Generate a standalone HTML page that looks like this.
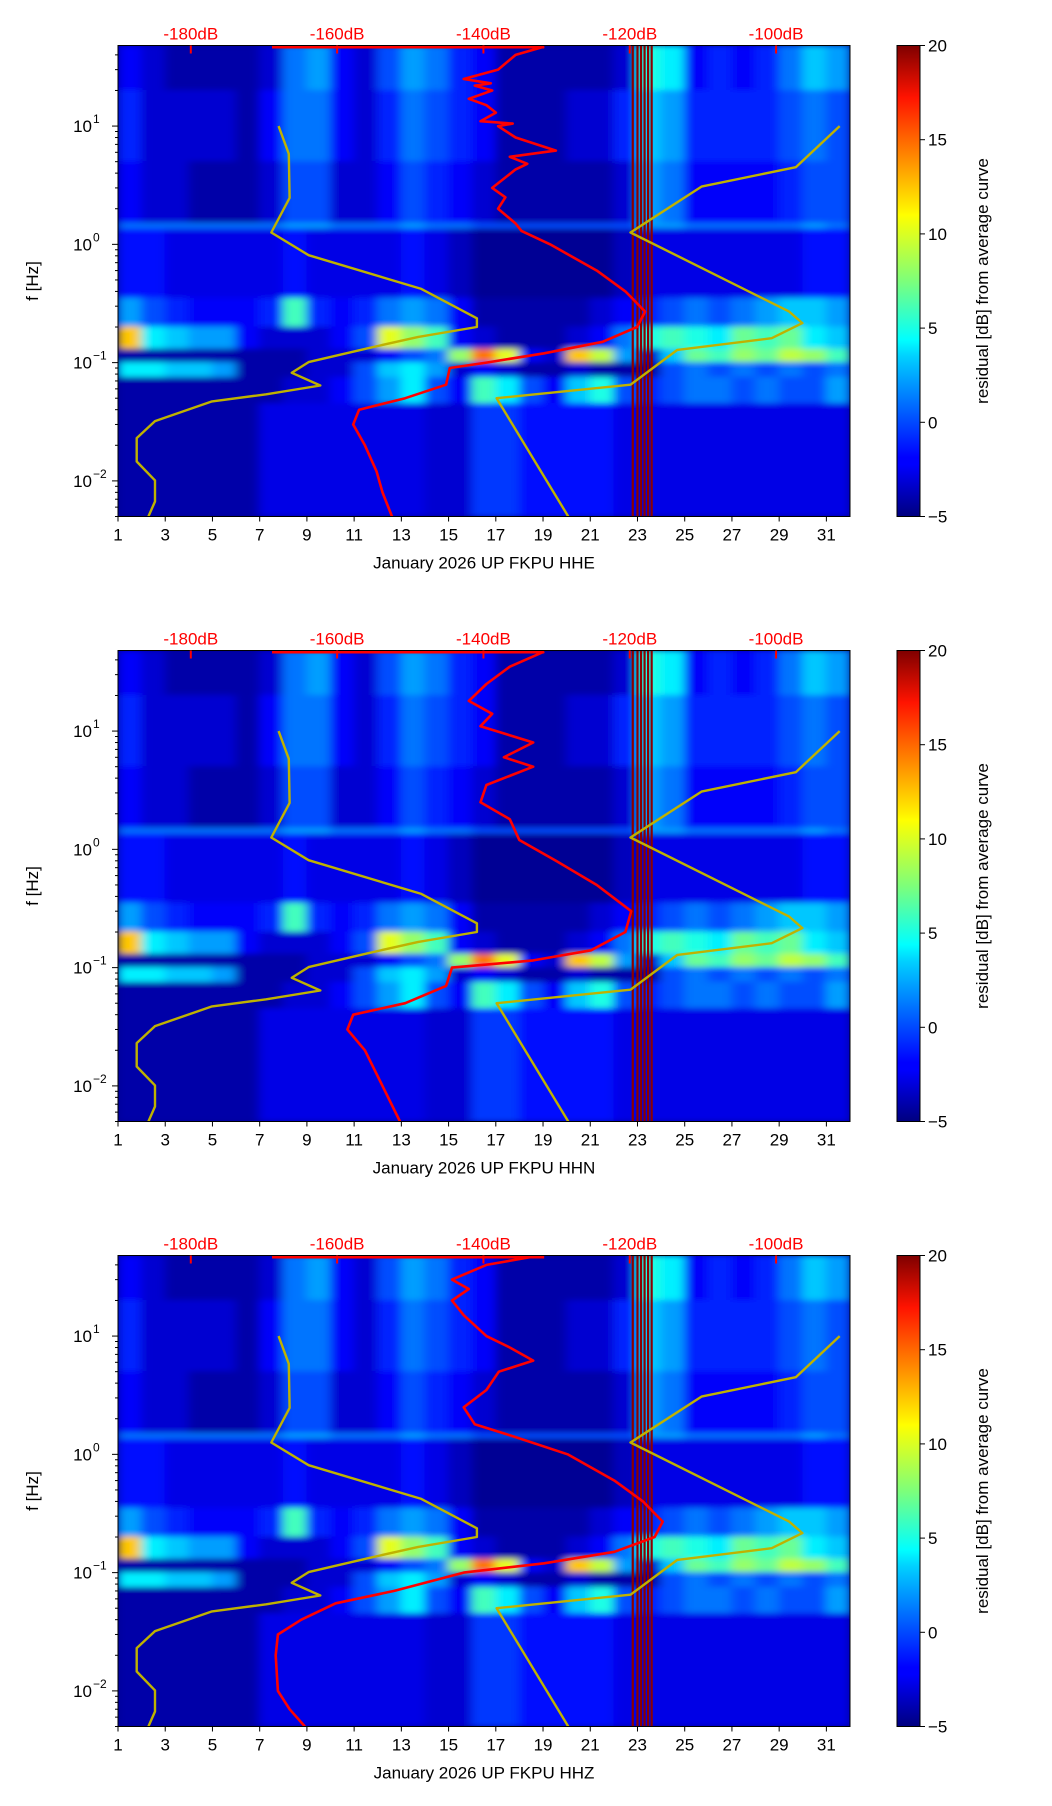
<!DOCTYPE html>
<html><head><meta charset="utf-8"><style>
html,body{margin:0;padding:0;background:#fff;}
svg{display:block;font-family:"Liberation Sans","DejaVu Sans",sans-serif;}
</style></head><body>
<svg id="fig" width="1052" height="1806" viewBox="0 0 1052 1806" xmlns="http://www.w3.org/2000/svg">
<defs>
<filter id="blur" x="-5%" y="-5%" width="110%" height="110%"><feGaussianBlur stdDeviation="5 3"/></filter>
<linearGradient id="jet" x1="0" y1="1" x2="0" y2="0">
<stop offset="0" stop-color="#00007f"/><stop offset="0.11" stop-color="#0000ff"/><stop offset="0.125" stop-color="#0000ff"/><stop offset="0.34" stop-color="#00d0ff"/><stop offset="0.375" stop-color="#00ffff"/><stop offset="0.5" stop-color="#7dff7a"/><stop offset="0.64" stop-color="#ffff00"/><stop offset="0.66" stop-color="#ffea00"/><stop offset="0.89" stop-color="#ff1300"/><stop offset="1" stop-color="#7f0000"/>
</linearGradient>
</defs>
</svg>
<script>
// ---- data ----
const days = [1,2,3,4,5,6,7,8,9,10,11,12,13,14,15,16,17,18,19,20,21,22,23,24,25,26,27,28,29,30,31];
const bandLo = [20, 5, 1.5, 1.35, 0.35, 0.2, 0.13, 0.1, 0.075, 0.045, 0.005];
const bandHi = [48, 20, 5, 1.5, 1.35, 0.35, 0.2, 0.13, 0.1, 0.075, 0.045];
const b0 = [-2,-3,-4,-4,-4,-4,-3,1,2,-2,-3,0,2,1,-1,-2,-4,-4,-4,-4,-4,-3,5,4,-2,-1,-2,-1,1,3,2];
const b1 = [-1,-3,-3,-3,-3,-4,-2,1,1,-2,-3,-1,1,0,-1,-2,-4,-4,-4,-3,-3,-1,3,2,-1,-1,-1,-1,0,1,0];
const b2 = [-2,-3,-3,-4,-4,-4,-3,0,0,-3,-3,-2,0,-1,-2,-3,-4,-4,-4,-4,-4,-3,2,1,-2,-2,-2,-2,-1,0,0];
const b3 = [1,1,1,1,1,1,1,2,2,1,1,1,2,1,1,0,0,0,0,0,0,0,2,2,1,1,1,1,1,2,1];
const b4 = [-1.5,-1.5,-2.5,-2.5,-2.5,-2.5,-2.5,-1.5,-2.5,-2.5,-2.5,-2.5,-1.5,-2.5,-3.5,-4.5,-4.5,-4.5,-4.5,-4.5,-4.5,-3.5,-2.5,-2.5,-2.5,-2.5,-2.5,-2.5,-2.5,-1.5,-1.5];
const b5 = [2,0,-1,-2,-2,-2,-1,6,-1,-2,-1,1,2,1,-2,-4,-4,-4,-4,-4,-3,-2,-1,0,1,0,1,2,3,3,2];
const b6 = [12,4,3,2,2,-2,-3,-3,-3,-2,0,10,8,6,-2,-3,-4,-4,-4,-3,-2,1,5,6,5,4,7,6,7,4,3];
const b7 = [-4,-4,-4,-4,-4,-4,-4,-4,-3,-3,-3,-2,0,1,8,14,10,-2,-3,12,9,2,-3,3,7,6,8,7,9,8,6];
const b8 = [4,4,3,3,2,-4,-4,-4,-3,-3,0,3,4,2,-3,-2,-3,-4,-4,-3,-4,-4,-4,0,1,0,1,0,1,0,1];
const b9 = [-4,-4,-4,-4,-4,-4,-4,-3,-3,-2,0,2,4,0,-2,6,4,0,-2,3,5,0,-1,0,1,1,0,1,0,0,2];
const b10 = [-4,-4,-4,-4,-4,-4,-2.5,-2.5,-2.5,-2.5,-2.5,-2.5,-2.5,-3,-3,-0.5,-0.5,-1.5,-1.5,-1.5,-1.5,-2.5,-2.5,-2.5,-2.5,-2.5,-2.5,-2.5,-2.5,-2.5,-2.5];
const bands = [b0,b1,b2,b3,b4,b5,b6,b7,b8,b9,b10];
const redLineDays = [22.8, 23.0, 23.15, 23.3, 23.45, 23.6];

const dbTicks = [-180,-160,-140,-120,-100];
const xTicks = [1,3,5,7,9,11,13,15,17,19,21,23,25,27,29,31];
const cbTicks = [-5,0,5,10,15,20];

const nlnmDb = [-168.0,-166.6,-166.5,-169.0,-163.9,-148.5,-140.9,-140.9,-148.9,-155.9,-163.9,-166.2,-162.3,-169.7,-177.1,-184.9,-187.4,-187.4,-184.9,-184.9,-185.8];
const nlnmF = [10,5.83,2.47,1.26,0.81,0.42,0.237,0.20,0.165,0.132,0.101,0.082,0.064,0.054,0.047,0.032,0.023,0.0146,0.0101,0.0067,0.005];
const nhnmDb = [-91.3,-97.3,-110.2,-119.9,-98.2,-96.4,-100.6,-113.5,-119.9,-138.2,-128.4];
const nhnmF = [10,4.49,3.08,1.26,0.27,0.216,0.161,0.128,0.065,0.05,0.005];

const red1Db = [-131.7,-135.6,-138,-142.7,-139,-141.2,-138.8,-142,-139.6,-138.3,-140.4,-136,-138,-135.6,-130.1,-136.4,-134,-135.6,-138.8,-137,-138,-135.6,-134.8,-130.9,-124.5,-120.6,-117.9,-119,-123.7,-131.7,-139.6,-144.6,-145.1,-150.7,-157,-157.8,-156.2,-154.6,-153.8,-152.5];
const red1F = [47,40,30,25,23,22,20,17,15,13,11,10.5,10,8,6.2,5.5,4.8,4.3,3,2.5,2,1.5,1.3,1,0.6,0.4,0.27,0.2,0.15,0.12,0.1,0.09,0.065,0.05,0.04,0.03,0.02,0.012,0.008,0.005];
const red2Db = [-131.7,-136.4,-139.6,-142,-138.8,-140.4,-133.2,-137.2,-133.2,-139.6,-140.4,-136.4,-135.1,-130.1,-124.5,-119.8,-120.6,-125.3,-133.2,-144.3,-145.1,-150.7,-157.8,-158.6,-156.2,-153.8,-151.4];
const red2F = [47,35,25,18,14,11,8,6,5,3.5,2.5,1.8,1.2,0.8,0.5,0.3,0.2,0.14,0.115,0.1,0.07,0.05,0.04,0.03,0.02,0.01,0.005];
const red3Db = [-133.2,-139.6,-144.3,-142,-144.3,-142.7,-139.6,-136.4,-133.2,-137.9,-139.6,-142.7,-141.2,-135.6,-128.5,-122.1,-118.2,-115.5,-116.6,-122.1,-131.7,-142.7,-152.2,-160.2,-164.9,-168.1,-168.4,-168.1,-166.5,-164.4];
const red3F = [47,40,30,25,20,15,10,8,6.2,5,3.5,2.5,1.8,1.4,1,0.6,0.4,0.27,0.2,0.15,0.12,0.1,0.07,0.055,0.04,0.03,0.02,0.01,0.007,0.005];
const redTopDb = [-168.9,-131.7];

const stations = ["HHE","HHN","HHZ"];
// ---- layout ----
const NS = "http://www.w3.org/2000/svg";
const svg = document.getElementById('fig');
const AX0 = 118, AX1 = 850, AH = 471, FMIN = 0.005, FMAX = 48, DMIN = 1, DMAX = 32;
const tops = [45.5, 650.5, 1255.5];
const CB0 = 897, CB1 = 920;
function xDay(d){ return AX0 + (d-DMIN)/(DMAX-DMIN)*(AX1-AX0); }
function xDb(db){ return 190.8 + (db+180)*7.316; }
function mk(tag, attrs, parent){ const e=document.createElementNS(NS,tag); for(const k in attrs) e.setAttribute(k,attrs[k]); parent.appendChild(e); return e; }
function jet(v){
  let t=(v+5)/25; t=Math.max(0,Math.min(1,t));
  const r=Math.max(0,Math.min(1,1.5-Math.abs(4*t-3)));
  const g=Math.max(0,Math.min(1,1.5-Math.abs(4*t-2)));
  const b=Math.max(0,Math.min(1,1.5-Math.abs(4*t-1)));
  return `rgb(${Math.round(r*255)},${Math.round(g*255)},${Math.round(b*255)})`;
}
function linePath(dbs, fs, yF){
  return dbs.map((db,i)=>(i?'L':'M')+xDb(db).toFixed(1)+','+yF(fs[i]).toFixed(1)).join(' ');
}
const reds = [[red1Db,red1F],[red2Db,red2F],[red3Db,red3F]];

tops.forEach((top,pi)=>{
  const yF = f => top + (Math.log10(FMAX)-Math.log10(f))/(Math.log10(FMAX)-Math.log10(FMIN))*AH;
  const panel = mk('g',{},svg);
  
  
  const cp = mk('clipPath',{id:'cp'+pi},svg);
  mk('rect',{x:AX0,y:top,width:AX1-AX0,height:AH},cp);
  const plot = mk('g',{'clip-path':`url(#cp${pi})`},panel);
  
  
  mk('rect',{x:AX0,y:top,width:AX1-AX0,height:AH,fill:'#00008f'},plot);
  const heat = mk('g',{filter:'url(#blur)'},plot);
  
  
  bands.forEach((arr,bi)=>{
    arr.forEach((v,di)=>{
      const x0=xDay(days[di]), x1=xDay(days[di]+1);
      const y0=yF(bandHi[bi]), y1=yF(bandLo[bi]);
      const r=mk('rect',{x:x0-0.5,y:y0-0.5,width:x1-x0+1,height:y1-y0+1,fill:jet(v)},heat);
      
      
    });
  });
  redLineDays.forEach(d=>{
    const l=mk('line',{x1:xDay(d),x2:xDay(d),y1:top,y2:top+AH,stroke:'#8b0000','stroke-width':2.2},plot);
    
    
  });
  const y1=mk('path',{d:linePath(nlnmDb,nlnmF,yF),fill:'none',stroke:'#bfb200','stroke-width':2.4,'stroke-linejoin':'round'},plot);
  
  
  const y2=mk('path',{d:linePath(nhnmDb,nhnmF,yF),fill:'none',stroke:'#bfb200','stroke-width':2.4,'stroke-linejoin':'round'},plot);
  
  
  const rt=mk('line',{x1:xDb(redTopDb[0]),x2:xDb(redTopDb[1]),y1:top+1.5,y2:top+1.5,stroke:'#ff0000','stroke-width':3},plot);
  
  
  const rc=mk('path',{d:linePath(reds[pi][0],reds[pi][1],yF),fill:'none',stroke:'#ff0000','stroke-width':2.6,'stroke-linejoin':'round'},plot);
  
  
  const fr=mk('rect',{x:AX0,y:top,width:AX1-AX0,height:AH,fill:'none',stroke:'#000','stroke-width':1},panel);
  
  
  dbTicks.forEach(db=>{
    const t=mk('text',{x:xDb(db),y:top-6,'text-anchor':'middle','font-size':17,fill:'#ff0000'},panel);
    t.textContent=db+'dB';
    
    
    mk('line',{x1:xDb(db),x2:xDb(db),y1:top,y2:top+8,stroke:'#ff0000','stroke-width':2},panel);
  });
  xTicks.forEach(d=>{
    mk('line',{x1:xDay(d),x2:xDay(d),y1:top+AH,y2:top+AH+5,stroke:'#000'},panel);
    const t=mk('text',{x:xDay(d),y:top+AH+24,'text-anchor':'middle','font-size':17},panel);
    t.textContent=d;
    
    
  });
  const xl=mk('text',{x:(AX0+AX1)/2,y:top+AH+52,'text-anchor':'middle','font-size':17},panel);
  xl.textContent='January 2026 UP FKPU  '+stations[pi];
  
  
  for(let e=-3;e<=1;e++){
    for(let m=1;m<=9;m++){
      const f=m*Math.pow(10,e);
      if(f<FMIN||f>FMAX) continue;
      const y=yF(f);
      mk('line',{x1:AX0-(m===1?6:3),x2:AX0,y1:y,y2:y,stroke:'#000'},panel);
      if(m===1){
        const t=mk('text',{x:AX0-26,y:y+6,'text-anchor':'end','font-size':17},panel);
        t.textContent='10';
        
        
        const s=mk('text',{x:AX0-25,y:y-3,'text-anchor':'start','font-size':12},panel);
        s.textContent=(e<0?'\u2212':'')+Math.abs(e);
      }
    }
  }
  const yl=mk('text',{x:0,y:0,'text-anchor':'middle','font-size':17,transform:`translate(38,${top+AH/2}) rotate(-90)`},panel);
  yl.textContent='f [Hz]';
  
  
  const cb=mk('rect',{x:CB0,y:top,width:CB1-CB0,height:AH,fill:'url(#jet)',stroke:'#000','stroke-width':1},panel);
  
  
  cbTicks.forEach(v=>{
    const y=top+AH-(v+5)/25*AH;
    mk('line',{x1:CB1,x2:CB1+5,y1:y,y2:y,stroke:'#000'},panel);
    const t=mk('text',{x:CB1+8,y:y+6,'font-size':17},panel);
    t.textContent=(v<0?'\u2212':'')+Math.abs(v);
    
    
  });
  const cl=mk('text',{x:0,y:0,'text-anchor':'middle','font-size':17,transform:`translate(988,${top+AH/2}) rotate(-90)`},panel);
  cl.textContent='residual [dB] from average curve';
  
  
});
</script>
</body></html>
